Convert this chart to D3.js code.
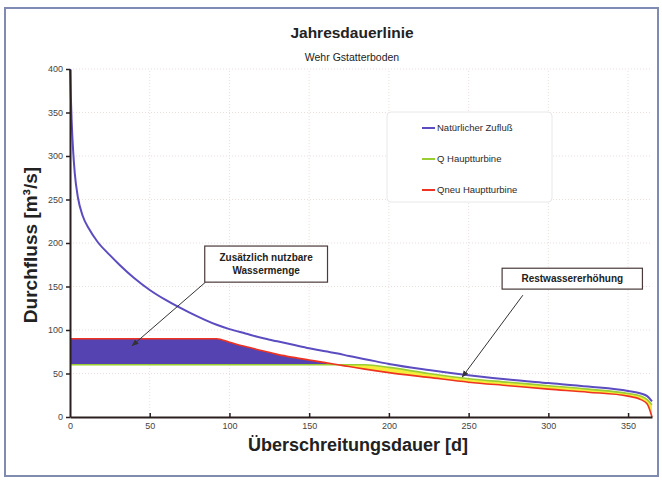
<!DOCTYPE html>
<html>
<head>
<meta charset="utf-8">
<script src="https://cdn.jsdelivr.net/npm/d3@7"></script>
<style>
  body { margin: 0; background: #fff; font-family: "Liberation Sans", Arial, sans-serif; }
</style>
</head>
<body>
<div id="chart"></div>
<script>
// Jahresdauerlinie Wehr Gstatterboden
const days = [0, 0.5, 1, 2, 3, 5, 8, 12, 17, 25, 31, 40, 50, 60, 75, 92, 100, 110, 120, 130, 140, 150, 160, 168, 175, 185, 200, 225, 250, 275, 300, 325, 350, 358, 362, 365];
const natural = [400, 370, 342, 305, 280, 252, 231, 216, 202, 186, 175, 160, 146, 134.5, 120, 106, 101, 96, 91, 87, 83, 79, 75.5, 73, 70, 66.5, 61, 54, 48, 43, 39, 35, 30, 27, 24, 18];
const qTurbine = [60, 60, 60, 60, 60, 60, 60, 60, 60, 60, 60, 60, 60, 60, 60, 60, 60, 60, 60, 60, 60, 60, 60, 60, 60, 60, 57, 50, 44, 40, 36, 32, 27, 24, 20, 14];
const qNeu = [90, 90, 90, 90, 90, 90, 90, 90, 90, 90, 90, 90, 90, 90, 90, 90, 86, 81, 76.5, 72, 68.5, 65.5, 62.5, 60, 58, 55, 51, 45.5, 40, 36, 32, 28.5, 24, 20, 15, 0];

const xTicks = [0, 50, 100, 150, 200, 250, 300, 350];
const yTicks = [0, 50, 100, 150, 200, 250, 300, 350, 400];
const legendNames = ["Natürlicher Zufluß", "Q Hauptturbine", "Qneu Hauptturbine"];
const colors = ["#5b4cc0", "#9acd32", "#ee3322"];

const width = 662, height = 480;
const svg = d3.select("#chart").append("svg")
    .attr("width", width)
    .attr("height", height);

// outer frame
svg.append("rect")
    .attr("x", 5).attr("y", 8)
    .attr("width", 653).attr("height", 468)
    .attr("fill", "#fff")
    .attr("stroke", "#7f8bb0")
    .attr("stroke-width", 2);

const x = d3.scaleLinear().domain([0, 365]).range([70, 652]);
const y = d3.scaleLinear().domain([0, 400]).range([417, 69]);

const rows = days.map((d, i) => ({ d, n: natural[i], q: qTurbine[i], qn: qNeu[i] }));

// grid
const grid = svg.append("g").attr("stroke", "#eddede").attr("stroke-dasharray", "1,2");
grid.selectAll(".h").data(yTicks.filter(v => v > 0)).enter().append("line")
    .attr("x1", x(0)).attr("x2", x(365))
    .attr("y1", d => y(d)).attr("y2", d => y(d));
grid.selectAll(".v").data(xTicks.filter(v => v > 0)).enter().append("line")
    .attr("x1", d => x(d)).attr("x2", d => x(d))
    .attr("y1", y(0)).attr("y2", y(400));

const curve = d3.curveMonotoneX;

// zusätzlich nutzbare Wassermenge (Qneu above Q)
svg.append("path").datum(rows)
    .attr("fill", "#5443b0")
    .attr("d", d3.area().curve(curve)
        .x(r => x(r.d))
        .y0(r => y(r.q))
        .y1(r => y(Math.max(r.q, r.qn))));

// Restwassererhöhung (Q above Qneu)
svg.append("path").datum(rows)
    .attr("fill", "#f4ee3a")
    .attr("d", d3.area().curve(curve)
        .x(r => x(r.d))
        .y0(r => y(r.qn))
        .y1(r => y(Math.max(r.q, r.qn))));

const series = [natural, qTurbine, qNeu];
series.forEach((s, k) => {
  svg.append("path").datum(days.map((d, i) => [d, s[i]]))
      .attr("fill", "none")
      .attr("stroke", colors[k])
      .attr("stroke-width", k === 0 ? 2 : 1.6)
      .attr("d", d3.line().curve(curve).x(p => x(p[0])).y(p => y(p[1])));
});

// axes
const yAxis = svg.append("g")
    .attr("transform", `translate(${x(0)},0)`)
    .call(d3.axisLeft(y).tickValues(yTicks).tickSizeInner(4).tickSizeOuter(0).tickPadding(3));
const xAxis = svg.append("g")
    .attr("transform", `translate(0,${y(0)})`)
    .call(d3.axisBottom(x).tickValues(xTicks).tickSizeInner(-4).tickSizeOuter(0).tickPadding(6));
[xAxis, yAxis].forEach(a => {
  a.select(".domain").attr("stroke", "#2a1f1f").attr("stroke-width", 2);
  a.selectAll(".tick line").attr("stroke", "#2a1f1f").attr("stroke-width", 1.5);
  a.selectAll("text").attr("fill", "#444").style("font-size", "9px")
      .style("font-family", "Liberation Sans, Arial, sans-serif");
});
xAxis.selectAll(".tick").filter(d => d === 0).select("line").remove();

// titles
svg.append("text").attr("x", 352).attr("y", 38).attr("text-anchor", "middle")
    .style("font-size", "15.5px").style("font-weight", "bold").attr("fill", "#222")
    .text("Jahresdauerlinie");
svg.append("text").attr("x", 352).attr("y", 61).attr("text-anchor", "middle")
    .style("font-size", "10.5px").attr("fill", "#222")
    .text("Wehr Gstatterboden");
svg.append("text").attr("x", 358).attr("y", 451).attr("text-anchor", "middle")
    .style("font-size", "18px").style("font-weight", "bold").attr("fill", "#222")
    .text("Überschreitungsdauer [d]");
svg.append("text").attr("transform", "translate(37,245) rotate(-90)").attr("text-anchor", "middle")
    .style("font-size", "19px").style("font-weight", "bold").attr("fill", "#222")
    .text("Durchfluss [m³/s]");

// legend
const lg = svg.append("g");
lg.append("rect").attr("x", 387).attr("y", 112).attr("width", 165).attr("height", 90)
    .attr("rx", 4).attr("fill", "#fff").attr("stroke", "#e8e8e8");
legendNames.forEach((name, k) => {
  const ly = 128 + k * 31;
  lg.append("line").attr("x1", 422).attr("x2", 435).attr("y1", ly).attr("y2", ly)
      .attr("stroke", colors[k]).attr("stroke-width", 2);
  lg.append("text").attr("x", 437).attr("y", ly + 3)
      .style("font-size", "9.5px").attr("fill", "#2a2a2a").text(name);
});

// annotations (in data units)
svg.append("defs").append("marker")
    .attr("id", "arrow").attr("viewBox", "0 0 10 10")
    .attr("refX", 9).attr("refY", 5)
    .attr("markerWidth", 7).attr("markerHeight", 7)
    .attr("orient", "auto")
  .append("path").attr("d", "M0,1 L10,5 L0,9 z").attr("fill", "#333");

const notes = [
  { lines: ["Zusätzlich nutzbare", "Wassermenge"], box: [84.5, 161.5, 196.5, 155], from: [85, 155], to: [39, 82] },
  { lines: ["Restwassererhöhung"], box: [271, 359, 171, 147], from: [284, 140], to: [246, 46] }
];
notes.forEach(n => {
  svg.append("line")
      .attr("x1", x(n.from[0])).attr("y1", y(n.from[1]))
      .attr("x2", x(n.to[0])).attr("y2", y(n.to[1]))
      .attr("stroke", "#333").attr("stroke-width", 1)
      .attr("marker-end", "url(#arrow)");
  const [d0, d1, v0, v1] = n.box;
  svg.append("rect")
      .attr("x", x(d0)).attr("y", y(v0))
      .attr("width", x(d1) - x(d0)).attr("height", y(v1) - y(v0))
      .attr("fill", "#fff").attr("stroke", "#4a3a3a").attr("stroke-width", 1.2);
  const cx = (x(d0) + x(d1)) / 2;
  const cy = (y(v0) + y(v1)) / 2;
  n.lines.forEach((t, i) => {
    svg.append("text")
        .attr("x", cx)
        .attr("y", cy + 3.5 + (i - (n.lines.length - 1) / 2) * 13)
        .attr("text-anchor", "middle")
        .style("font-size", "10px").style("font-weight", "bold").attr("fill", "#222")
        .text(t);
  });
});
</script>
</body>
</html>
